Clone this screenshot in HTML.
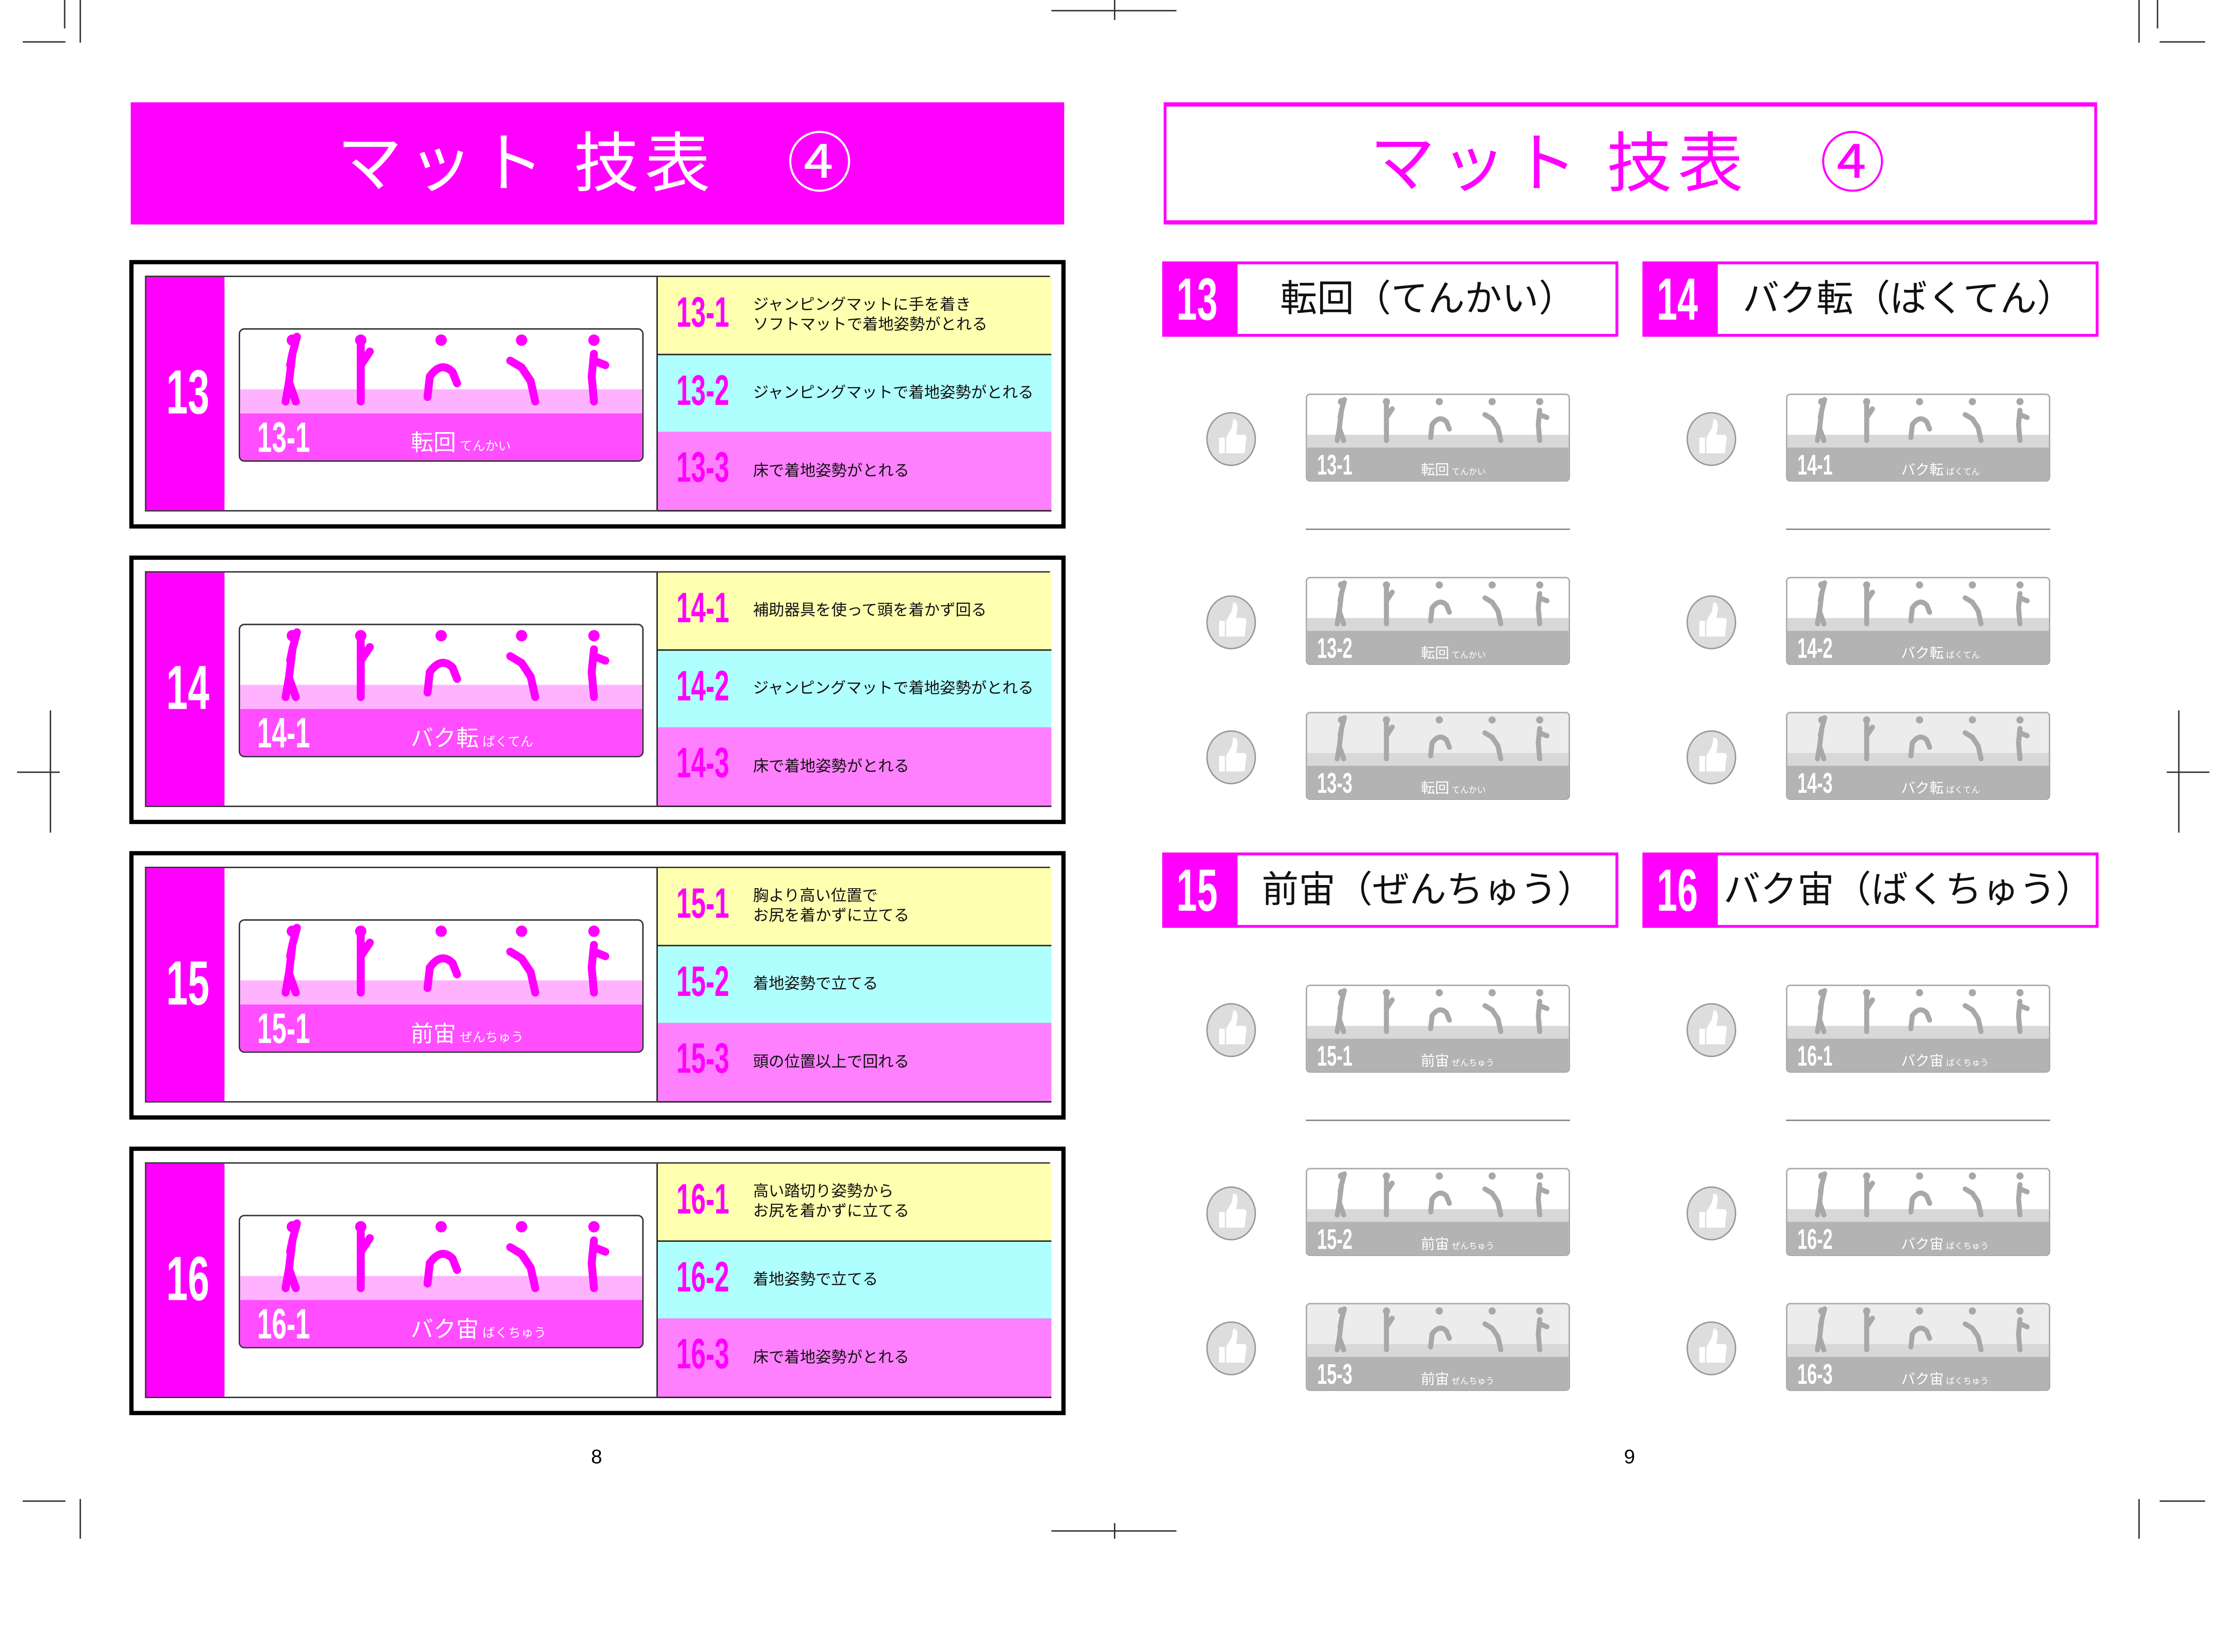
<!DOCTYPE html>
<html><head><meta charset="utf-8">
<style>
html,body{margin:0;padding:0;background:#fff;overflow:hidden;width:5351px;height:3709px}
#s{position:absolute;left:0;top:0;width:1562px;height:1083px;transform:scale(3.19);transform-origin:0 0;font-family:"Liberation Sans","Noto Sans CJK JP",sans-serif}
.a{position:absolute;box-sizing:border-box}
.n{display:inline-block;transform:scaleX(.62);transform-origin:0 50%;font-weight:bold}
.hd{font-size:46px;text-align:center;line-height:86px;letter-spacing:4px}
.row{position:absolute;left:0;width:277px;height:55.3px;border-bottom:1px solid #222;box-sizing:border-box}
.row .l{position:absolute;left:13px;top:8px;font-size:30px;color:#ff00ff;line-height:36px}
.row .t{position:absolute;left:67px;font-size:11px;line-height:14px;color:#111;top:50%;transform:translateY(-50%)}
.cm{position:absolute;background:#333}
</style></head><body><div id="s">

<div class="cm" style="left:56px;top:0;width:1px;height:30px"></div>
<div class="cm" style="left:16px;top:29px;width:30px;height:1px"></div>
<div class="cm" style="left:45px;top:0;width:1px;height:20px"></div>
<div class="cm" style="left:1505px;top:0;width:1px;height:30px"></div>
<div class="cm" style="left:1520px;top:29px;width:32px;height:1px"></div>
<div class="cm" style="left:1518px;top:0;width:1px;height:20px"></div>
<div class="cm" style="left:740px;top:7px;width:88px;height:1px"></div>
<div class="cm" style="left:784px;top:0;width:1px;height:14px"></div>
<div class="cm" style="left:56px;top:1055px;width:1px;height:28px"></div>
<div class="cm" style="left:16px;top:1056px;width:30px;height:1px"></div>
<div class="cm" style="left:1505px;top:1055px;width:1px;height:28px"></div>
<div class="cm" style="left:1520px;top:1056px;width:32px;height:1px"></div>
<div class="cm" style="left:740px;top:1077px;width:88px;height:1px"></div>
<div class="cm" style="left:784px;top:1072px;width:1px;height:11px"></div>
<div class="cm" style="left:12px;top:543px;width:30px;height:1px"></div>
<div class="cm" style="left:35px;top:500px;width:1px;height:86px"></div>
<div class="cm" style="left:1525px;top:543px;width:30px;height:1px"></div>
<div class="cm" style="left:1533px;top:500px;width:1px;height:86px"></div>

<div class="a hd" style="left:92px;top:72px;width:657px;height:86px;background:#ff00ff;color:#fff">マット 技表　④</div>
<div class="a hd" style="left:819px;top:72px;width:657px;height:86px;border:3px solid #ff00ff;border-left-width:2px;border-right-width:2px;color:#ff00ff;line-height:80px">マット 技表　④</div>

<div id="left"></div>
<div id="right"></div>

<div class="a" style="left:416px;top:1017px;font-size:14px">8</div>
<div class="a" style="left:1143px;top:1017px;font-size:14px">9</div>
</div>
<script>
var L=[
 ["13","転回","てんかい",["ジャンピングマットに手を着き<br>ソフトマットで着地姿勢がとれる","ジャンピングマットで着地姿勢がとれる","床で着地姿勢がとれる"]],
 ["14","バク転","ばくてん",["補助器具を使って頭を着かず回る","ジャンピングマットで着地姿勢がとれる","床で着地姿勢がとれる"]],
 ["15","前宙","ぜんちゅう",["胸より高い位置で<br>お尻を着かずに立てる","着地姿勢で立てる","頭の位置以上で回れる"]],
 ["16","バク宙","ばくちゅう",["高い踏切り姿勢から<br>お尻を着かずに立てる","着地姿勢で立てる","床で着地姿勢がとれる"]]];
function figs(c,w,h){
 var p=[[0.13,"M0,-20 L4,-35 M0,-20 L-3,5 L-6,22 M-3,5 L3,22 M0,-20 L-2,-10"],[0.3,"M0,-28 L0,22 M0,-10 L8,-22"],[0.5,"M-12,18 L-10,0 Q0,-14 10,-4 L14,6"],[0.7,"M-10,-14 L0,-8 L8,4 L12,22"],[0.88,"M0,-20 L-2,0 L0,22 M0,-14 L10,-10"]];
 var s='<svg width="'+w+'" height="'+h+'" style="position:absolute;left:0;top:0">';
 p.forEach(function(q){s+='<g transform="translate('+(q[0]*w)+','+(h*0.55)+') scale('+(h/75)+')"><path d="'+q[1]+'" stroke="'+c+'" stroke-width="7" fill="none" stroke-linecap="round"/><circle cx="0" cy="-32" r="5" fill="'+c+'"/></g>';});
 return s+'</svg>';
}
var h='';
L.forEach(function(b,i){
 var T=183+208*i;
 h+='<div class="a" style="left:91px;top:'+T+'px;width:659px;height:189px;border:3px solid #000"></div>';
 h+='<div class="a" style="left:102px;top:'+(T+11)+'px;width:637px;height:166px;border:1px solid #333;background:#fff">';
 h+='<div class="a" style="left:0;top:0;width:55px;height:164px;background:#ff00ff;color:#fff;font-size:44px;line-height:164px;padding-left:14px"><span class="n">'+b[0]+'</span></div>';
 h+='<div class="a" style="left:359px;top:0;width:277px;height:164px;border-left:1px solid #222">';
 var cols=["#ffffb0","#b0ffff","#ff80ff"];
 b[3].forEach(function(t,j){h+='<div class="row" style="top:'+(j*54.7)+'px;background:'+cols[j]+'"><div class="l"><span class="n">'+b[0]+'-'+(j+1)+'</span></div><div class="t">'+t+'</div></div>';});
 h+='</div>';
 h+='<div class="a" style="left:65px;top:36px;width:285px;height:94px;border:1px solid #333;border-radius:4px;overflow:hidden;background:#fff">';
 h+='<div class="a" style="left:0;top:42px;width:100%;height:18px;background:#ffb3ff"></div><div class="a" style="left:0;top:59px;width:100%;height:35px;background:#ff4dff"></div>';
 h+=figs('#ff00ff',283,60);
 h+='<div class="a" style="left:12px;top:60px;color:#fff;font-size:30px;line-height:34px"><span class="n">'+b[0]+'-1</span></div>';
 h+='<div class="a" style="left:120px;top:66px;color:#fff;font-size:16px">'+b[1]+'<span style="font-size:9px"> '+b[2]+'</span></div>';
 h+='</div></div>';
});
document.getElementById('left').innerHTML=h;
var R='';
L.forEach(function(b,i){
 var X=818+338*(i%2), Y=i<2?184:600;
 R+='<div class="a" style="left:'+X+'px;top:'+Y+'px;width:321px;height:53px;border:2px solid #ff00ff;background:#fff"></div>';
 R+='<div class="a" style="left:'+X+'px;top:'+Y+'px;width:53px;height:53px;background:#ff00ff;color:#fff;font-size:42px;line-height:53px;padding-left:10px"><span class="n">'+b[0]+'</span></div>';
 R+='<div class="a" style="left:'+(X+53)+'px;top:'+Y+'px;width:268px;height:53px;font-size:26px;line-height:53px;text-align:center;color:#111">'+b[1]+'（'+b[2]+'）</div>';
 var cx=X+101;
 [93,222,317].forEach(function(dy,j){
  var cy=Y+dy;
  R+='<div class="a" style="left:'+cx+'px;top:'+cy+'px;width:186px;height:62px;border:1px solid #aaa;border-radius:3px;overflow:hidden;background:'+(j==2?'#ececec':'#fff')+'">';
  R+='<div class="a" style="left:0;top:28px;width:100%;height:10px;background:#d8d8d8"></div><div class="a" style="left:0;top:37px;width:100%;height:25px;background:#b3b3b3"></div>';
  R+=figs('#a8a8a8',186,38);
  R+='<div class="a" style="left:7px;top:38px;color:#fff;font-size:20px;line-height:24px"><span class="n">'+b[0]+'-'+(j+1)+'</span></div>';
  R+='<div class="a" style="left:80px;top:44px;color:#fff;font-size:10px">'+b[1]+'<span style="font-size:6px"> '+b[2]+'</span></div></div>';
  R+='<div class="a" style="left:'+(X+31)+'px;top:'+(cy+13)+'px;width:35px;height:38px;border-radius:50%;background:#ddd;border:1px solid #999"><svg width="33" height="36" style="position:absolute;left:0;top:0"><rect x="8" y="17" width="4" height="11" fill="#fff"/><path d="M13,17 L17,10 L18,4 Q21,4 21,9 L20,15 L26,15 Q28,16 27,19 L26,28 L13,28 Z" fill="#fff"/></svg></div>';
 });
 R+='<div class="a" style="left:'+cx+'px;top:'+(Y+188)+'px;width:186px;height:1px;background:#888"></div>';
});
document.getElementById('right').innerHTML=R;
</script>
</body></html>
